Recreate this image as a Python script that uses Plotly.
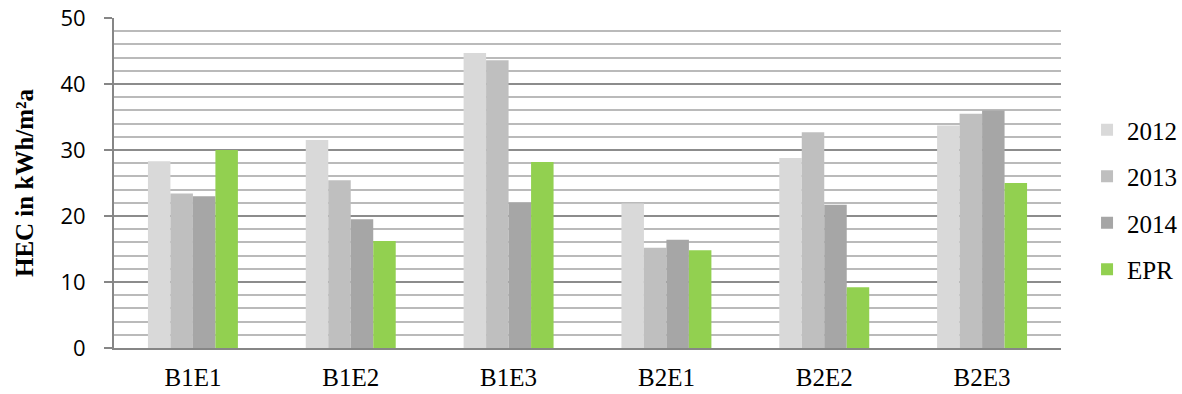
import plotly.graph_objects as go

# Heating energy consumption per building/entrance
categories = ["B1E1", "B1E2", "B1E3", "B2E1", "B2E2", "B2E3"]
series_names = ["2012", "2013", "2014", "EPR"]
hec_2012 = [28.3, 31.5, 44.7, 21.9, 28.8, 33.7]
hec_2013 = [23.4, 25.4, 43.6, 15.2, 32.7, 35.5]
hec_2014 = [23.0, 19.5, 22.0, 16.4, 21.7, 36.0]
hec_epr = [30.0, 16.2, 28.2, 14.8, 9.2, 25.0]
y_ticks = [0, 10, 20, 30, 40, 50]

colors = ["#d9d9d9", "#bfbfbf", "#a6a6a6", "#92d050"]
values = [hec_2012, hec_2013, hec_2014, hec_epr]

fig = go.Figure()
for i, (name, vals, col) in enumerate(zip(series_names, values, colors)):
    fig.add_trace(go.Bar(
        x=categories, y=vals, name=name, marker_color=col,
        marker_line_width=0, legendgroup=f"g{i}",
    ))

serif = "Liberation Serif, Times New Roman, serif"

fig.update_layout(
    width=1182, height=394,
    margin=dict(l=114, r=121, t=18, b=46, autoexpand=False),
    paper_bgcolor="white", plot_bgcolor="white",
    barmode="group", bargap=0.43, bargroupgap=0,
    showlegend=True,
    legend=dict(
        x=1.0275, xanchor="left", y=0.45, yanchor="middle",
        font=dict(family=serif, size=25, color="black"),
        tracegroupgap=11, itemwidth=30,
        bgcolor="rgba(0,0,0,0)",
    ),
    font=dict(family=serif, color="black"),
)

fig.update_xaxes(
    showline=True, linecolor="#868686", linewidth=2,
    showgrid=False, ticks="",
    tickfont=dict(family=serif, size=25, color="black"),
    ticklabelstandoff=6,
)

fig.update_yaxes(
    range=[0, 50], tickvals=y_ticks,
    showline=True, linecolor="#868686", linewidth=2,
    ticks="outside", ticklen=8, tickcolor="#868686", tickwidth=2,
    showgrid=True, gridcolor="#8c8c8c", gridwidth=2,
    minor=dict(dtick=2, showgrid=True, gridcolor="#bababa", gridwidth=2),
    zeroline=False,
    tickfont=dict(family="Open Sans, Liberation Sans, sans-serif", size=22, color="black"),
    ticklabelstandoff=14,
    title=dict(text="<b>HEC in kWh/m²a</b>",
               font=dict(family=serif, size=25, color="black"),
               standoff=20),
)

fig.write_html("out.html")
